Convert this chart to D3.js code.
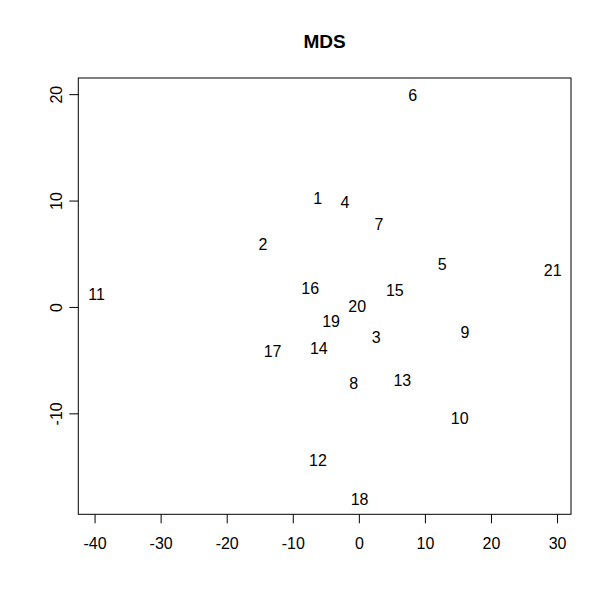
<!DOCTYPE html>
<html>
<head>
<meta charset="utf-8">
<script src="https://cdn.jsdelivr.net/npm/d3@7"></script>
<style>
  body { margin: 0; background: #fff; }
  svg text { font-family: "Liberation Sans", Arial, sans-serif; fill: #000; }
</style>
</head>
<body>
<div id="chart"></div>
<script>
// MDS coordinates, one label per point
const labels = ["1","2","3","4","5","6","7","8","9","10","11","12","13","14","15","16","17","18","19","20","21"];
const dim1 = [-6.21, -14.52, 2.61, -2.09, 12.6, 8.17, 3.03, -0.76, 16.06, 15.26, -39.7, -6.18, 6.58, -6.06, 5.44, -7.36, -13.05, 0.11, -4.21, -0.24, 29.35];
const dim2 = [10.29, 5.99, -2.73, 9.92, 4.16, 20.0, 7.86, -7.03, -2.28, -10.38, 1.33, -14.25, -6.76, -3.77, 1.71, 1.9, -4.05, -17.97, -1.25, 0.22, 3.54];
const xTicks = [-40, -30, -20, -10, 0, 10, 20, 30];
const yTicks = [-10, 0, 10, 20];

const W = 612, H = 612;
const box = { left: 78.3, right: 571, top: 78, bottom: 514.3 };

// R-style 4% extension of the data range
const pad = ext => { const d = (ext[1] - ext[0]) * 0.04; return [ext[0] - d, ext[1] + d]; };

const x = d3.scaleLinear().domain(pad(d3.extent(dim1))).range([box.left, box.right]);
const y = d3.scaleLinear().domain(pad(d3.extent(dim2))).range([box.bottom, box.top]);

// plain hyphen for negatives, like R
const fmt = d => String(d);

const svg = d3.select("#chart").append("svg")
  .attr("width", W).attr("height", H);

svg.append("rect")
  .attr("x", box.left).attr("y", box.top)
  .attr("width", box.right - box.left).attr("height", box.bottom - box.top)
  .attr("fill", "none").attr("stroke", "#000").attr("stroke-width", 1);

const xAxis = svg.append("g")
  .attr("transform", `translate(0,${box.bottom})`)
  .call(d3.axisBottom(x).tickValues(xTicks).tickSize(9).tickPadding(14).tickFormat(fmt));
xAxis.selectAll("text").style("font-size", "16px");

const yAxis = svg.append("g")
  .attr("transform", `translate(${box.left},0)`)
  .call(d3.axisLeft(y).tickValues(yTicks).tickSize(9).tickFormat(fmt));
yAxis.selectAll("text")
  .style("font-size", "16px")
  .attr("text-anchor", "middle")
  .attr("dy", null)
  .attr("x", null)
  .attr("transform", "translate(-22,0) rotate(-90)")
  .attr("dominant-baseline", "central");

[xAxis, yAxis].forEach(g => {
  g.select(".domain").remove();
  g.selectAll("line").attr("stroke", "#000");
});

svg.selectAll(".lbl")
  .data(labels)
  .join("text")
  .attr("class", "lbl")
  .attr("x", (d, i) => x(dim1[i]))
  .attr("y", (d, i) => y(dim2[i]))
  .attr("dy", 1.5)
  .attr("text-anchor", "middle")
  .attr("dominant-baseline", "central")
  .style("font-size", "16px")
  .text(d => d);

svg.append("text")
  .attr("x", (box.left + box.right) / 2)
  .attr("y", 41)
  .attr("text-anchor", "middle")
  .attr("dominant-baseline", "central")
  .style("font-size", "19px")
  .style("font-weight", "bold")
  .text("MDS");
</script>
</body>
</html>
